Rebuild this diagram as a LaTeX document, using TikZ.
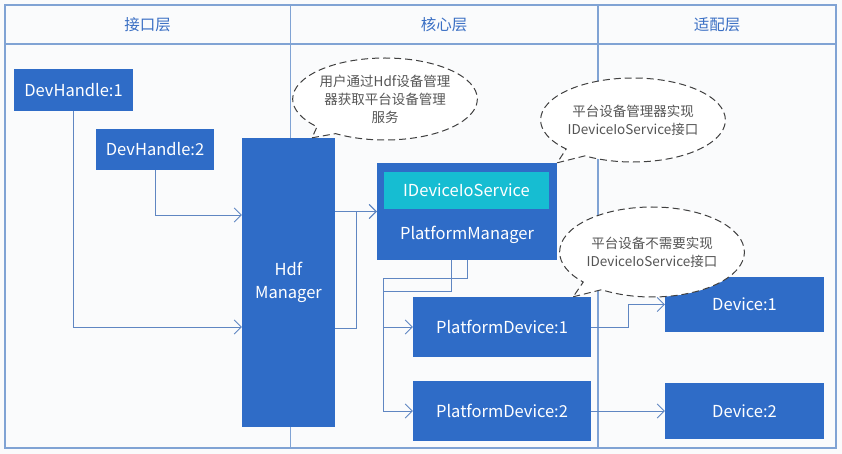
\documentclass[tikz,border=0pt]{standalone}
\usepackage{fontspec}
\setmainfont{Noto Sans CJK SC}
\usepackage{tikz}
\usetikzlibrary{shapes.callouts, arrows.meta, calc}

\definecolor{framecol}{RGB}{128,163,212}
\definecolor{titlecol}{RGB}{58,111,196}
\definecolor{boxblue}{RGB}{47,108,199}
\definecolor{ioscyan}{RGB}{22,189,210}
\definecolor{linkcol}{RGB}{95,134,194}
\definecolor{bgcol}{RGB}{250,251,252}
\definecolor{notecol}{RGB}{85,85,85}

\tikzset{
  blk/.style={fill=boxblue, text=white, inner sep=0pt, align=center,
    font=\fontsize{16.5}{23}\selectfont},
  link/.style={draw=linkcol, line width=0.9pt,
    -{Straight Barb[length=7pt,width=14pt,line width=0.9pt]}},
  note/.style={ellipse callout, draw=black!75, dash pattern=on 7pt off 4pt,
    line width=1pt, fill=white, text=notecol, inner sep=0pt, align=center,
    font=\fontsize{13.5}{18}\selectfont},
  layer/.style={text=titlecol, font=\fontsize{15.5}{18}\selectfont}
}

\begin{document}
\begin{tikzpicture}[x=1pt, y=-1pt]
        \useasboundingbox[fill=bgcol] (0,0) rectangle (842,454);
        % layers
        \draw[framecol, line width=1.1pt] (5,5) rectangle (836,448);
        \draw[framecol, line width=1.1pt] (5,44) -- (836,44);
        \draw[framecol, line width=1.1pt] (290.5,5) -- (290.5,448);
        \draw[framecol, line width=1.1pt] (598,5) -- (598,448);
        \node[layer] (lyif) at (147.5,25) {接口层};
        \node[layer] (lycore) at (444,25) {核心层};
        \node[layer] (lyadp) at (717,25) {适配层};

        % blocks
        \node[blk, minimum width=119pt, minimum height=42pt] (dh1) at (73.5,90) {DevHandle:1};
        \node[blk, minimum width=118pt, minimum height=41pt] (dh2) at (155,149.5) {DevHandle:2};
        \node[blk, minimum width=93pt, minimum height=289pt] (hdf) at (288.5,282.5) {Hdf\\Manager};
        \node[blk, minimum width=180pt, minimum height=97pt] (pm) at (467,211.5) {};
        \node[blk, fill=ioscyan, minimum width=165pt, minimum height=37pt] (ios) at (466.5,190.5) {IDeviceIoService};
        \node[blk] (pmtxt) at (467,235) {PlatformManager};
        \node[blk, minimum width=178pt, minimum height=60pt] (pd1) at (502,327) {PlatformDevice:1};
        \node[blk, minimum width=178pt, minimum height=60pt] (pd2) at (502,411) {PlatformDevice:2};
        \node[blk, minimum width=159pt, minimum height=55pt] (d1) at (744.5,304.5) {Device:1};
        \node[blk, minimum width=159pt, minimum height=56pt] (d2) at (744.5,411) {Device:2};

        % links
        \draw[link] (dh1.south) |- ([yshift=-44.5pt]hdf.west);
        \draw[link] (dh2.south) |- ([yshift=67.5pt]hdf.west);
        \draw[link] ([yshift=-45.5pt]hdf.east) -- ++(21,0) |- (pm.west);
        \draw[link] (hdf.east |- pm.west) -- (pm.west);
        \draw[link] ([xshift=-16pt]pm.south) |- ++(-68,31) |- (pd1.west);
        \draw[link] (pm.south) |- ++(-84,18) |- (pd2.west);
        \draw[link] (pd1.east) -- ++(37,0) |- (d1.west);
        \draw[link] (pd2.east) -- (d2.west);

        % notes
        \node[note, minimum width=150pt, minimum height=82pt,
              callout absolute pointer={([xshift=23.5pt]hdf.north)}] (n1) at (385,99)
              {用户通过Hdf设备管理\\器获取平台设备管理\\服务};
        \node[note, minimum width=157pt, minimum height=84pt,
              callout absolute pointer={(pm.north east)}] (n2) at (633,120)
              {平台设备管理器实现\\IDeviceIoService接口};
        \node[note, minimum width=161pt, minimum height=90pt,
              callout absolute pointer={([xshift=-18pt]pd1.north east)}] (n3) at (652,252)
              {平台设备不需要实现\\IDeviceIoService接口};
    \end{tikzpicture}
\end{document}
